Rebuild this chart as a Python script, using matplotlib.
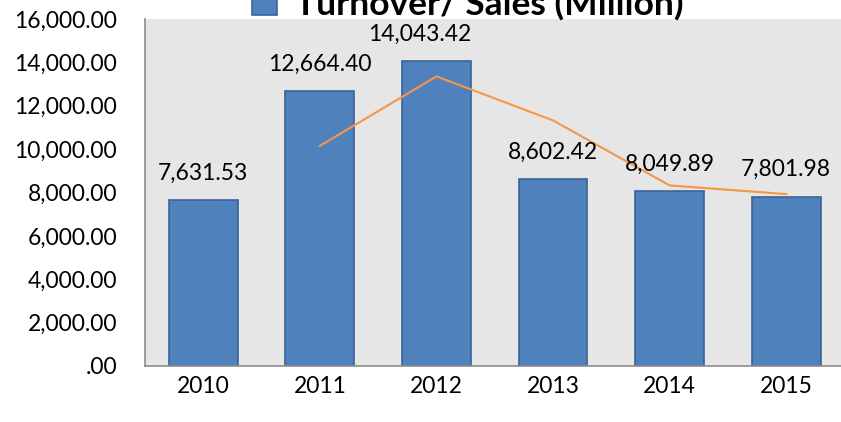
# -*- coding: utf-8 -*-
import numpy as np
import matplotlib
matplotlib.use('Agg')
import matplotlib.pyplot as plt
from matplotlib.ticker import FuncFormatter

plt.rcParams['font.family'] = ['Lato', 'DejaVu Sans']

years = ['2010', '2011', '2012', '2013', '2014', '2015']
sales = [7631.53, 12664.40, 14043.42, 8602.42, 8049.89, 7801.98]
# trend line (starts at 2011)
trend_years = ['2011', '2012', '2013', '2014', '2015']
trend = [10148, 13354, 11323, 8326, 7926]

x = np.arange(len(years))
tx = np.array([years.index(y) for y in trend_years])

fig = plt.figure(figsize=(8.41, 4.22), dpi=100)
ax = fig.add_axes([145/841, 56/422, 699.5/841, 347/422])
ax.set_facecolor('#E6E6E6')

bars = ax.bar(x, sales, width=0.59, color='#4F81BD', edgecolor='#3A649A', linewidth=1.2,
              label='Turnover/ Sales (Million)', zorder=2)
ax.plot(tx, trend, color='#F79646', linewidth=1.5, zorder=3)

# value labels (2012 one sits a bit left in the original)
shift = {2: -17}
for i, v in enumerate(sales):
    ax.annotate('{:,.2f}'.format(v), (x[i], v), xytext=(shift.get(i, 0), 27),
                textcoords='offset pixels', ha='center', va='center', fontsize=16.5, color='#000000')

ax.set_xlim(-0.5, 5.5)
ax.set_ylim(0, 16000)
ax.set_yticks(np.arange(0, 16001, 2000))
ax.yaxis.set_major_formatter(FuncFormatter(lambda v, p: '.00' if v == 0 else '{:,.2f}'.format(v)))
ax.set_xticks(x)
ax.set_xticklabels(years)
ax.tick_params(axis='both', length=0, labelsize=16.5, labelcolor='#000000')
ax.tick_params(axis='y', pad=20)
ax.tick_params(axis='x', pad=7)

ax.spines['top'].set_visible(False)
ax.spines['right'].set_visible(False)
ax.spines['left'].set_color('#8C8C8C')
ax.spines['bottom'].set_color('#8C8C8C')
ax.spines['left'].set_linewidth(1.2)
ax.spines['bottom'].set_linewidth(1.2)

leg = fig.legend(handles=[bars], loc='center', bbox_to_anchor=(0.556, 0.990), frameon=False,
                 handlelength=0.7, handleheight=0.7, handletextpad=0.5,
                 prop={'size': 25.5, 'weight': 'bold'})

fig.savefig('out.png', dpi=100)
